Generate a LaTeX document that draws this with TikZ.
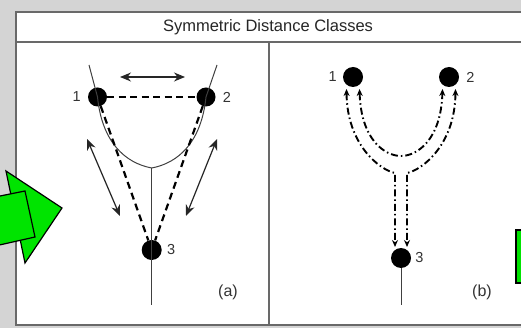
\documentclass[tikz,border=0pt]{standalone}
\usepackage{fontspec}
\setmainfont{Liberation Sans}
\usepackage{tikz}
\usetikzlibrary{arrows.meta,positioning}
\definecolor{bggray}{RGB}{212,212,212}
\definecolor{framegray}{RGB}{105,105,105}
\definecolor{markgreen}{RGB}{0,228,0}
\tikzset{
  dotnode/.style={circle, fill=black, minimum size=19pt, inner sep=0pt},
  numlabel/.style={inner sep=1pt, text=black!80, font=\fontsize{14.5}{16}\selectfont},
  partlabel/.style={inner sep=1pt, text=black!80, font=\fontsize{16}{18}\selectfont},
  thinline/.style={line width=1pt, draw=black!75},
  dashedline/.style={line width=2.2pt, dash pattern=on 7pt off 4.5pt},
  arrow/.style={{Stealth[length=11pt,width=9pt]}-{Stealth[length=11pt,width=9pt]}, line width=1.2pt, draw=black!85},
  dashdot/.style={{Stealth[length=7pt,width=6pt]}-{Stealth[length=7pt,width=6pt]}, line width=1.9pt, dash pattern=on 7pt off 3pt on 1.5pt off 3pt},
  frameline/.style={draw=framegray, line width=1.5pt},
  greenmark/.style={fill=markgreen, draw=black, line width=1.2pt, line join=miter}
}

\begin{document}
\begin{tikzpicture}[x=1pt, y=-1pt]
\useasboundingbox (0,0) rectangle (521,328);
\clip (0,0) rectangle (521,328);
\fill[bggray] (0,0) rectangle (521,328);
\fill[white] (16,12) rectangle (535,325);

% frame and title
\draw[frameline] (535,12) -- (16,12) -- (16,325) -- (535,325);
\draw[frameline] (16,42) -- (535,42);
\draw[frameline] (269,42) -- (269,325);
\node[font=\fontsize{16.5}{18}\selectfont, text=black!85] (title) at (268,27) {Symmetric Distance Classes};

% panel (a)
\node[dotnode] (a1) at (97.5,97) {};
\node[dotnode] (a2) at (206,97) {};
\node[dotnode, minimum size=20pt] (a3) at (151.7,250) {};
\node[numlabel, left=6pt of a1] {1};
\node[numlabel, right=6pt of a2] {2};
\node[numlabel, right=4pt of a3] {3};
\node[partlabel] (pa) at (228,292) {(a)};
\coordinate (ta1) at (89,65);
\coordinate (ta2) at (217,65);
\coordinate (ja) at (151.7,168);
\coordinate (ea) at (151.7,305);
\draw[thinline] (ta1) -- (a1.center) .. controls (102,142) and (125,163) .. (ja)
  .. controls (178.4,163) and (201.4,142) .. (a2.center) -- (ta2);
\draw[thinline] (ja) -- (ea);
\draw[dashedline] (a1) -- (a2);
\draw[dashedline] (a1) -- (a3);
\draw[dashedline] (a2) -- (a3);
\coordinate (h1) at (120,77);
\coordinate (h2) at (185,77);
\coordinate (l1) at (87,139);
\coordinate (l2) at (120,216);
\coordinate (r1) at (217,139);
\coordinate (r2) at (186,216);
\draw[arrow] (h1) -- (h2);
\draw[arrow] (l1) -- (l2);
\draw[arrow] (r1) -- (r2);

% panel (b)
\node[dotnode, minimum size=20pt] (b1) at (353,77) {};
\node[dotnode, minimum size=20pt] (b2) at (449,77) {};
\node[dotnode, minimum size=20pt] (b3) at (401,258) {};
\node[numlabel, left=5pt of b1] {1};
\node[numlabel, right=6pt of b2] {2};
\node[numlabel, right=3pt of b3] {3};
\node[partlabel] (pb) at (482,292) {(b)};
\coordinate (eb) at (401,305);
\draw[thinline] (b3) -- (eb);
\draw[dashdot] (346.5,89) .. controls (347,145) and (380,170) .. (395,173) -- (395,247);
\draw[dashdot] (455.5,89) .. controls (455,145) and (422,170) .. (407,173) -- (407,247);
\draw[dashdot] (359.5,89) .. controls (361,140) and (385,156) .. (401,156)
  .. controls (417,156) and (441,140) .. (442.5,89);

% green marks
\draw[greenmark] (6,171) -- (62,208) -- (25,263) -- cycle;
\draw[greenmark] (-5,197) -- (25,191) -- (35,237) -- (-5,246);
\draw[greenmark] (530,230) -- (516,230) -- (516,283) -- (530,283);
\end{tikzpicture}
\end{document}
